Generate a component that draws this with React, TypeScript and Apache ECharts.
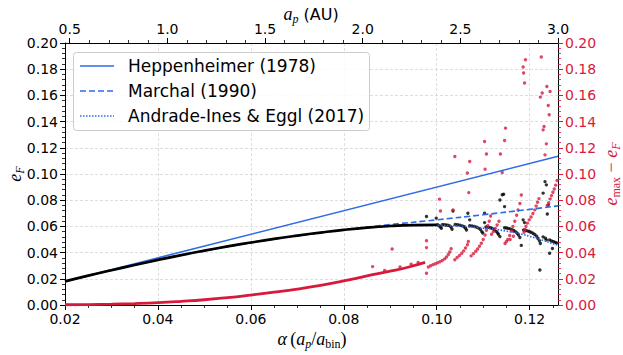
import React, { useEffect, useRef } from 'react';
import * as echarts from 'echarts';

// ---- axis ticks ----
const alphaTicks = [0.02, 0.04, 0.06, 0.08, 0.1, 0.12];
const alphaMinorTicks = [0.025, 0.03, 0.035, 0.045, 0.05, 0.055, 0.065, 0.07, 0.075, 0.085, 0.09, 0.095, 0.105, 0.11, 0.115, 0.125];
const apTicks = [0.5, 1.0, 1.5, 2.0, 2.5, 3.0];
const apMinorTicks = [0.6, 0.7, 0.8, 0.9, 1.1, 1.2, 1.3, 1.4, 1.6, 1.7, 1.8, 1.9, 2.1, 2.2, 2.3, 2.4, 2.6, 2.7, 2.8, 2.9];
const ALPHA_MIN = 0.02;
const ALPHA_MAX = 0.1261;
const AP_MAX = 3.0;

// ---- series ----
const heppenheimer = [[0.02, 0.018], [0.1261, 0.1135]];
const marchal = [[0.02, 0.018], [0.03, 0.0265], [0.04, 0.0344], [0.05, 0.0414], [0.06, 0.0475], [0.07, 0.0528], [0.08, 0.0574], [0.09, 0.0614], [0.1, 0.065], [0.11, 0.0689], [0.12, 0.073], [0.1261, 0.0757]];
const andrade = [[0.02, 0.018], [0.03, 0.0265], [0.04, 0.0344], [0.05, 0.0414], [0.06, 0.0476], [0.07, 0.0529], [0.08, 0.0572], [0.09, 0.0601], [0.095, 0.0608], [0.1, 0.0608], [0.105, 0.0601], [0.11, 0.0587], [0.115, 0.0564], [0.12, 0.0524], [0.1261, 0.0455]];

const eFCurve = [[0.02, 0.018], [0.025, 0.0224], [0.03, 0.0265], [0.035, 0.0305], [0.04, 0.0344], [0.045, 0.0381], [0.05, 0.0415], [0.055, 0.0447], [0.06, 0.0477], [0.065, 0.0505], [0.07, 0.053], [0.075, 0.0553], [0.08, 0.0574], [0.085, 0.0591], [0.09, 0.0603], [0.095, 0.061], [0.1, 0.0612]];
const eFPoints = [
  [0.1002, 0.0612], [0.1005, 0.0605], [0.1008, 0.0595], [0.101, 0.0585],
  [0.1012, 0.0612], [0.1016, 0.0612], [0.102, 0.0611], [0.1024, 0.0609], [0.1028, 0.0604], [0.1031, 0.0594], [0.1033, 0.0578],
  [0.104, 0.0614], [0.1045, 0.0612], [0.105, 0.0609], [0.1055, 0.0604], [0.1059, 0.0597], [0.1062, 0.0586], [0.1064, 0.0572],
  [0.1071, 0.0605], [0.1076, 0.0603], [0.1081, 0.0599], [0.1086, 0.0594], [0.109, 0.0587], [0.1094, 0.0576], [0.1097, 0.056], [0.1099, 0.055],
  [0.1106, 0.0596], [0.1111, 0.0594], [0.1116, 0.0589], [0.112, 0.0583], [0.1124, 0.0574], [0.1128, 0.0562], [0.1131, 0.055], [0.1133, 0.0538],
  [0.1146, 0.059], [0.115, 0.0588], [0.1154, 0.0585], [0.1158, 0.0581], [0.1162, 0.0575], [0.1166, 0.0568], [0.117, 0.0558], [0.1173, 0.0548], [0.1176, 0.0535], [0.1179, 0.0515], [0.1182, 0.0455],
  [0.1187, 0.0572], [0.1191, 0.057], [0.1195, 0.0566], [0.1199, 0.0561], [0.1203, 0.0555], [0.1207, 0.0548], [0.1211, 0.0538], [0.1215, 0.0525], [0.1218, 0.0508], [0.1221, 0.049], [0.1223, 0.047],
  [0.1229, 0.052], [0.1234, 0.051], [0.1243, 0.0497], [0.1247, 0.0488], [0.1251, 0.0484], [0.1255, 0.0478], [0.1258, 0.0474], [0.1249, 0.0432],
  [0.0978, 0.0675], [0.0999, 0.0663], [0.1035, 0.0718], [0.1067, 0.0701], [0.1071, 0.065], [0.1103, 0.0701], [0.1103, 0.0629],
  [0.1141, 0.0841], [0.1144, 0.0846], [0.1136, 0.0802], [0.1146, 0.0751], [0.1136, 0.0522], [0.1186, 0.065], [0.1189, 0.0629],
  [0.1233, 0.0942], [0.1236, 0.0917], [0.1229, 0.0854], [0.124, 0.0764], [0.1238, 0.0695], [0.1222, 0.0267], [0.1243, 0.0395], [0.1236, 0.0497]
];

const deltaCurve = [[0.02, 0.0002], [0.025, 0.0003], [0.03, 0.0006], [0.035, 0.0011], [0.04, 0.0018], [0.045, 0.0028], [0.05, 0.004], [0.055, 0.0056], [0.06, 0.0076], [0.065, 0.0098], [0.07, 0.0122], [0.075, 0.015], [0.08, 0.0184], [0.085, 0.0222], [0.09, 0.0258], [0.094, 0.029], [0.0975, 0.0325]];
const deltaPoints = [
  [0.0888, 0.0264], [0.0921, 0.0291], [0.0945, 0.0312], [0.096, 0.0324],
  [0.0978, 0.0242], [0.0982, 0.029], [0.0987, 0.03], [0.0992, 0.0308], [0.0997, 0.0315], [0.1002, 0.0322], [0.1007, 0.033], [0.1012, 0.034], [0.1017, 0.0352], [0.1021, 0.0367], [0.1025, 0.0385], [0.1028, 0.0405], [0.1031, 0.043],
  [0.1039, 0.0345], [0.1044, 0.0362], [0.1049, 0.0378], [0.1054, 0.0395], [0.1058, 0.0413], [0.1062, 0.0435], [0.1066, 0.046], [0.1068, 0.0485],
  [0.1074, 0.0375], [0.1079, 0.0392], [0.1084, 0.041], [0.1088, 0.0428], [0.1092, 0.0448], [0.1096, 0.0472], [0.11, 0.05], [0.1104, 0.0535], [0.1107, 0.057], [0.111, 0.0605], [0.1113, 0.064], [0.1116, 0.068],
  [0.1118, 0.054], [0.1122, 0.056], [0.1126, 0.0585], [0.113, 0.061], [0.1134, 0.064],
  [0.1147, 0.047], [0.115, 0.0485], [0.1153, 0.05], [0.1157, 0.053], [0.1161, 0.0565], [0.1164, 0.06], [0.1168, 0.064], [0.1172, 0.0685], [0.1175, 0.0725], [0.1179, 0.0775], [0.1182, 0.084], [0.1158, 0.05], [0.1165, 0.0525],
  [0.1188, 0.0555], [0.119, 0.0575], [0.1192, 0.06], [0.1195, 0.0625], [0.1199, 0.065], [0.1203, 0.0672], [0.1207, 0.0698], [0.1211, 0.0726], [0.1214, 0.0755], [0.1217, 0.0785], [0.122, 0.0812],
  [0.1238, 0.076], [0.1241, 0.078], [0.1244, 0.081], [0.1247, 0.0835], [0.125, 0.086], [0.1253, 0.0885], [0.1256, 0.0915], [0.1259, 0.095],
  [0.0862, 0.0293], [0.0904, 0.0428], [0.0978, 0.0491], [0.0978, 0.0438],
  [0.1006, 0.0808], [0.1008, 0.0718], [0.1035, 0.0726], [0.1039, 0.1133], [0.1066, 0.1007], [0.1069, 0.0858], [0.1071, 0.1095],
  [0.1103, 0.1248], [0.1104, 0.1037], [0.1107, 0.1152], [0.1137, 0.1152], [0.1141, 0.1011], [0.1146, 0.1256], [0.1148, 0.135],
  [0.1186, 0.1817], [0.1187, 0.1771], [0.1189, 0.1694], [0.1191, 0.1872], [0.1225, 0.1893], [0.1223, 0.1587], [0.1227, 0.1618],
  [0.1237, 0.1668], [0.1244, 0.163], [0.124, 0.1523], [0.1242, 0.1452], [0.1231, 0.1363], [0.1229, 0.1337], [0.1236, 0.123], [0.1233, 0.1146]
];

const legendLabels = ['Heppenheimer (1978)', 'Marchal (1990)', 'Andrade-Ines & Eggl (2017)'];

const BLUE = '#2f6be8';
const RED = '#d7193c';
const GRID_LINE = { color: '#d6d6d6', type: [3, 2], width: 0.8 };
const TICK_FONT = { fontSize: 14, fontFamily: 'DejaVu Sans', color: '#000' };

const mathRich = (color: string) => ({
  i: { fontFamily: 'Liberation Serif', fontStyle: 'italic', fontSize: 18, lineHeight: 22, verticalAlign: 'middle', fill: color, color },
  s: { fontFamily: 'Liberation Serif', fontStyle: 'italic', fontSize: 12, lineHeight: 12, verticalAlign: 'bottom', fill: color, color },
  r: { fontFamily: 'Liberation Serif', fontSize: 12, lineHeight: 12, verticalAlign: 'bottom', fill: color, color },
  n: { fontFamily: 'Liberation Serif', fontSize: 18, lineHeight: 22, verticalAlign: 'middle', fill: color, color },
  t: { fontFamily: 'DejaVu Sans', fontSize: 16, lineHeight: 22, verticalAlign: 'middle', fill: color, color },
});

function buildOption() {
  const apMax = AP_MAX;
  const apMin = AP_MAX * ALPHA_MIN / ALPHA_MAX;
  const legendRows = [66, 91, 116];
  const legendDash = [null, [6, 3], [1.5, 1.5]];
  const legendGraphics: any[] = [
    { type: 'rect', z: 100, shape: { x: 73.5, y: 52.5, width: 296, height: 78, r: 3 }, style: { fill: 'rgba(255,255,255,0.85)', stroke: '#cccccc', lineWidth: 1 } },
  ];
  legendLabels.forEach((lab, k) => {
    legendGraphics.push({
      type: 'line', z: 101,
      shape: { x1: 80, y1: legendRows[k], x2: 114, y2: legendRows[k] },
      style: { stroke: BLUE, lineWidth: 1.6, lineDash: legendDash[k] || undefined },
    });
    legendGraphics.push({
      type: 'text', z: 101, x: 128, y: legendRows[k],
      style: { text: lab, fontSize: 17, fontFamily: 'DejaVu Sans', fill: '#000', align: 'left', verticalAlign: 'middle' },
    });
  });

  const nameGraphics: any[] = [
    { type: 'text', z: 101, x: 311, y: 14, style: { text: '{i|a}{s|p}{t| (AU)}', rich: mathRich('#000'), align: 'center', verticalAlign: 'middle', fill: '#000' } },
    { type: 'text', z: 101, x: 312, y: 339, style: { text: '{i|α} {n|(}{i|a}{s|p}{n|/}{i|a}{r|bin}{n|)}', rich: mathRich('#000'), align: 'center', verticalAlign: 'middle', fill: '#000' } },
    { type: 'text', z: 101, x: 15, y: 174, rotation: Math.PI / 2, style: { text: '{i|e}{s|F}', rich: mathRich('#000'), align: 'center', verticalAlign: 'middle', fill: '#000' } },
    { type: 'text', z: 101, x: 611, y: 174, rotation: Math.PI / 2, style: { text: '{i|e}{r|max}{n| − }{i|e}{s|F}', rich: mathRich(RED), align: 'center', verticalAlign: 'middle', fill: RED } },
  ];

  const blackLine = { color: '#000', width: 1 };

  return {
    animation: false,
    backgroundColor: '#fff',
    grid: { left: 65, right: 65, top: 43, bottom: 50, containLabel: false, outerBoundsMode: 'none' },
    xAxis: [
      {
        type: 'value', position: 'bottom', min: ALPHA_MIN, max: ALPHA_MAX, interval: 0.02,
        axisLine: { show: true, onZero: false, lineStyle: blackLine },
        axisTick: { show: true, length: 5, customValues: alphaTicks, lineStyle: blackLine },
        axisLabel: { customValues: alphaTicks, formatter: (v: number) => v.toFixed(2), margin: 7, ...TICK_FONT },
        splitLine: { show: true, lineStyle: GRID_LINE },
      },
      {
        type: 'value', position: 'bottom', min: ALPHA_MIN, max: ALPHA_MAX,
        axisLine: { show: false, onZero: false },
        axisTick: { show: true, length: 3, customValues: alphaMinorTicks, lineStyle: { color: '#000', width: 0.8 } },
        axisLabel: { show: false },
        splitLine: { show: false },
      },
      {
        type: 'value', position: 'top', min: apMin, max: apMax,
        axisLine: { show: true, onZero: false, lineStyle: blackLine },
        axisTick: { show: true, length: 5, customValues: apTicks, lineStyle: blackLine },
        axisLabel: { customValues: apTicks, formatter: (v: number) => v.toFixed(1), margin: 7, ...TICK_FONT },
        splitLine: { show: false },
      },
      {
        type: 'value', position: 'top', min: apMin, max: apMax,
        axisLine: { show: false, onZero: false },
        axisTick: { show: true, length: 3, customValues: apMinorTicks, lineStyle: { color: '#000', width: 0.8 } },
        axisLabel: { show: false },
        splitLine: { show: false },
      },
    ],
    yAxis: [
      {
        type: 'value', position: 'left', min: 0, max: 0.2, interval: 0.02,
        axisLine: { show: true, onZero: false, lineStyle: blackLine },
        axisTick: { show: true, length: 5, lineStyle: blackLine },
        minorTick: { show: true, splitNumber: 5, length: 3, lineStyle: { color: '#000', width: 0.8 } },
        axisLabel: { formatter: (v: number) => v.toFixed(2), margin: 7, ...TICK_FONT },
        splitLine: { show: true, lineStyle: GRID_LINE },
      },
      {
        type: 'value', position: 'right', min: 0, max: 0.2, interval: 0.02,
        axisLine: { show: true, onZero: false, lineStyle: blackLine },
        axisTick: { show: true, length: 5, lineStyle: { color: RED, width: 1 } },
        minorTick: { show: true, splitNumber: 5, length: 3, lineStyle: { color: RED, width: 0.8 } },
        axisLabel: { formatter: (v: number) => v.toFixed(2), margin: 7, ...TICK_FONT, color: RED },
        splitLine: { show: false },
      },
    ],
    series: [
      { type: 'line', xAxisIndex: 0, yAxisIndex: 0, data: heppenheimer, symbol: 'none', silent: true, lineStyle: { color: BLUE, width: 1.6 } },
      { type: 'line', xAxisIndex: 0, yAxisIndex: 0, data: marchal, symbol: 'none', smooth: true, silent: true, lineStyle: { color: BLUE, width: 1.6, type: [6, 3] } },
      { type: 'line', xAxisIndex: 0, yAxisIndex: 0, data: andrade, symbol: 'none', smooth: true, silent: true, lineStyle: { color: BLUE, width: 1.6, type: [1.5, 1.5] } },
      { type: 'line', xAxisIndex: 0, yAxisIndex: 0, data: eFCurve, symbol: 'none', smooth: true, silent: true, lineStyle: { color: '#000', width: 2.7 } },
      { type: 'scatter', xAxisIndex: 0, yAxisIndex: 0, data: eFPoints, symbolSize: 3.4, silent: true, itemStyle: { color: '#000' } },
      { type: 'line', xAxisIndex: 0, yAxisIndex: 1, data: deltaCurve, symbol: 'none', smooth: true, silent: true, lineStyle: { color: RED, width: 2.8 } },
      { type: 'scatter', xAxisIndex: 0, yAxisIndex: 1, data: deltaPoints, symbolSize: 3.4, silent: true, itemStyle: { color: RED } },
    ],
    graphic: [...legendGraphics, ...nameGraphics],
  };
}

export default function App() {
  const ref = useRef<HTMLDivElement>(null);
  useEffect(() => {
    if (!ref.current) return;
    const chart = echarts.init(ref.current, null, { renderer: 'svg' });
    chart.setOption(buildOption() as any);
    return () => chart.dispose();
  }, []);
  return <div ref={ref} style={{ position: 'fixed', left: 0, top: 0, width: 623, height: 355, background: '#fff' }} />;
}
